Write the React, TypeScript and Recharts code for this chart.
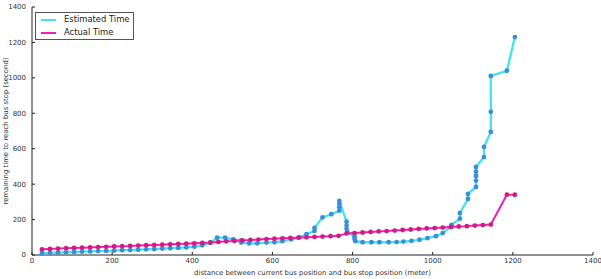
import { ScatterChart, Scatter, XAxis, YAxis } from "recharts";

// distance to the stop (m) and remaining time (s) for each sample
const estDist = [
  25, 45, 65, 85, 105, 125, 145, 165, 185, 205, 225, 245, 265, 285, 305, 325, 345, 365, 385, 405,
  425, 445, 462, 482, 502, 522, 522, 542, 562, 585, 605, 625, 647, 667, 685, 705, 705, 725, 747,
  767, 767, 767, 767, 785, 785, 785, 787, 805, 805, 807, 825, 847, 867, 890, 910, 927, 947, 967,
  987, 1008, 1025, 1047, 1047, 1068, 1068, 1088, 1088, 1108, 1108, 1108, 1108, 1108, 1128, 1128,
  1145, 1145, 1145, 1185, 1205,
];
const estSec = [
  10, 12, 14, 15, 17, 19, 20, 22, 23, 25, 27, 28, 30, 32, 34, 36, 38, 40, 43, 47,
  55, 68, 98, 98, 88, 82, 70, 66, 66, 70, 72, 78, 88, 100, 117, 136, 153, 212, 230,
  250, 270, 288, 305, 188, 166, 148, 130, 105, 90, 78, 72, 72, 72, 72, 73, 76, 80, 86,
  95, 106, 124, 160, 170, 205, 237, 316, 345, 384, 420, 446, 470, 497, 553, 610,
  695, 808, 1011, 1040, 1230,
];

const actDist = [
  25, 45, 65, 85, 105, 125, 145, 165, 185, 205, 225, 245, 265, 285, 305, 325, 345, 365, 385, 405,
  425, 445, 465, 485, 505, 525, 545, 565, 585, 605, 625, 645, 665, 685, 705, 725, 745, 765,
  785, 805, 825, 845, 865, 885, 905, 925, 945, 965, 985, 1005, 1025, 1045, 1065, 1085, 1105,
  1125, 1145, 1185, 1205,
];
const actSec = [
  32, 34, 36, 38, 40, 41, 43, 45, 46, 48, 50, 51, 53, 55, 57, 58, 60, 62, 64, 66,
  68, 71, 74, 77, 79, 82, 85, 87, 90, 92, 94, 96, 98, 100, 102, 104, 106, 108,
  122, 124, 127, 130, 133, 135, 138, 141, 144, 147, 150, 152, 155, 158, 161, 163, 166,
  169, 172, 340, 340,
];

const axisTicks = [0, 200, 400, 600, 800, 1000, 1200, 1400];

const estimated = estDist.map((x, i) => ({ x, y: estSec[i] }));
const actual = actDist.map((x, i) => ({ x, y: actSec[i] }));

const FONT = "'DejaVu Sans', sans-serif";
const CYAN = "#3fe6ee";
const CYAN_DOT = "#3a8fd8";
const MAGENTA = "#ec1ec2";
const MAGENTA_DOT = "#d41a7c";

const dot = (fill: string) => (props: any) =>
  <circle cx={props.cx} cy={props.cy} r={2.4} fill={fill} />;

const tickStyle = { fontSize: 7, fill: "#333", fontFamily: FONT };

function LegendBox() {
  const row = (color: string, label: string) => (
    <div style={{ display: "flex", alignItems: "center", height: 13 }}>
      <div style={{ width: 15, height: 2, background: color, marginRight: 8, flexShrink: 0 }} />
      <span>{label}</span>
    </div>
  );
  return (
    <div
      style={{
        position: "absolute",
        left: 35,
        top: 12,
        padding: "0 4px 0 5px",
        border: "1px solid #555",
        background: "#fff",
        fontFamily: FONT,
        fontSize: 8.4,
        color: "#222",
        lineHeight: "13px",
        whiteSpace: "nowrap",
      }}
    >
      {row(CYAN, "Estimated Time")}
      {row(MAGENTA, "Actual Time")}
    </div>
  );
}

export default function App() {
  return (
    <div style={{ position: "fixed", left: 0, top: 0, width: 601, height: 279, background: "#fff" }}>
      <ScatterChart width={601} height={279} margin={{ top: 7, right: 8, bottom: 0, left: 0 }}>
        <XAxis
          type="number"
          dataKey="x"
          domain={[0, 1400]}
          ticks={axisTicks}
          interval={0}
          height={24}
          stroke="#222"
          tickSize={-3}
          tickMargin={6}
          tick={tickStyle}
          label={{
            value: "distance between current bus position and bus stop position (meter)",
            position: "insideBottom",
            offset: 4,
            style: { fontSize: 6.9, fill: "#333", fontFamily: FONT },
          }}
        />
        <XAxis
          xAxisId="top"
          orientation="top"
          type="number"
          domain={[0, 1400]}
          ticks={axisTicks}
          height={0}
          stroke="#222"
          tickSize={-3}
          tick={false}
        />
        <YAxis
          type="number"
          dataKey="y"
          domain={[0, 1400]}
          ticks={axisTicks}
          interval={0}
          width={32}
          stroke="#222"
          tickSize={-3}
          tickMargin={9}
          tick={tickStyle}
          label={{
            value: "remaining time to reach bus stop (second)",
            angle: -90,
            position: "insideLeft",
            offset: 0,
            dx: 6,
            style: { fontSize: 6.9, fill: "#333", fontFamily: FONT, textAnchor: "middle" },
          }}
        />
        <YAxis
          yAxisId="right"
          orientation="right"
          type="number"
          domain={[0, 1400]}
          ticks={axisTicks}
          width={0}
          stroke="#222"
          tickSize={-3}
          tick={false}
        />
        <Scatter
          name="Estimated Time"
          data={estimated}
          line={{ stroke: CYAN, strokeWidth: 2.3 }}
          shape={dot(CYAN_DOT)}
          isAnimationActive={false}
        />
        <Scatter
          name="Actual Time"
          data={actual}
          line={{ stroke: MAGENTA, strokeWidth: 2 }}
          shape={dot(MAGENTA_DOT)}
          isAnimationActive={false}
        />
      </ScatterChart>
      <LegendBox />
    </div>
  );
}
